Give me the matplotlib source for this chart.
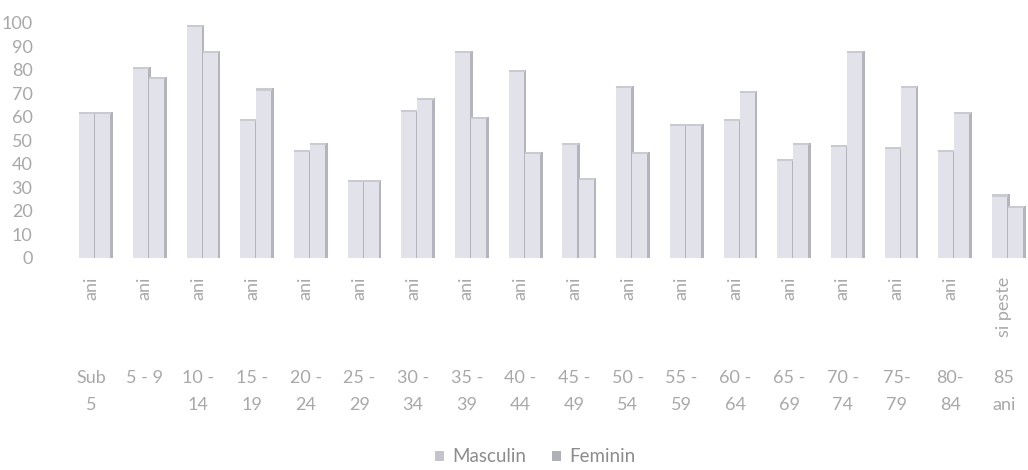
import matplotlib.pyplot as plt
import matplotlib.transforms as mtransforms
from matplotlib.patches import Patch

# grupe de varsta (eticheta rotita + doua randuri orizontale)
rot_labels = ["ani"] * 17 + ["si peste"]
line1 = ["Sub", "5 - 9", "10 -", "15 -", "20 -", "25 -", "30 -", "35 -", "40 -",
         "45 -", "50 -", "55 -", "60 -", "65 -", "70 -", "75-", "80-", "85"]
line2 = ["5", "", "14", "19", "24", "29", "34", "39", "44",
         "49", "54", "59", "64", "69", "74", "79", "84", "ani"]

masculin = [62, 81, 99, 59, 46, 33, 63, 88, 80, 49, 73, 57, 59, 42, 48, 47, 46, 27]
feminin = [62, 77, 88, 72, 49, 33, 68, 60, 45, 34, 45, 57, 71, 49, 88, 73, 62, 22]

yticks = list(range(0, 101, 10))

plt.rcParams['font.family'] = ['Lato', 'DejaVu Sans']

W, H = 1028, 470
fig = plt.figure(figsize=(W / 100, H / 100), dpi=100)
ax = fig.add_axes([70 / W, 1 - 258 / H, (W - 70) / W, (258 - 22.5) / H])

front = "#e2e2ea"
side = "#b4b4bc"
top = "#cacad2"
txt = "#a8a8a8"

n = len(masculin)
x = list(range(n))
bw = 0.30   # latime fata
sw = 0.05   # latime fata laterala

# coloane "3D": fata, latura dreapta mai inchisa, muchie sus
for i in x:
    for j, v in enumerate([masculin[i], feminin[i]]):
        left = i - 0.33 + j * bw
        ax.bar(left, v, width=bw, align='edge', color=front, linewidth=0, zorder=2 + 2 * j)
        ax.bar(left + bw - sw * 0.4, v, width=sw, align='edge', color=side, linewidth=0,
               zorder=2 + 2 * j + 1)
        ax.bar(left, 0.9, bottom=v - 0.9, width=bw, align='edge', color=top, linewidth=0,
               zorder=2 + 2 * j + 1)

ax.set_xlim(-0.5, 17.34)
ax.set_ylim(0, 100)
ax.set_yticks(yticks)
ax.set_yticklabels([str(t) for t in yticks])
ax.tick_params(axis='y', length=0, pad=27, labelsize=13, labelcolor=txt)
ax.set_xticks([])
for s in ax.spines.values():
    s.set_visible(False)

# etichete categorii
tr = mtransforms.blended_transform_factory(ax.transData, fig.transFigure)
for i in x:
    xc = i - 0.11
    ax.text(xc, 1 - 277 / H, rot_labels[i], transform=tr, rotation=90,
            ha='center', va='top', fontsize=13, color=txt)
    ax.text(xc, 1 - 378 / H, line1[i], transform=tr, ha='center', va='center',
            fontsize=13, color=txt)
    if line2[i]:
        ax.text(xc, 1 - 405 / H, line2[i], transform=tr, ha='center', va='center',
                fontsize=13, color=txt)

handles = [Patch(facecolor="#c4c4cc", label="Masculin"),
           Patch(facecolor="#b0b0b8", label="Feminin")]
fig.legend(handles=handles, loc='center', bbox_to_anchor=(535 / W, 1 - 457 / H), ncol=2,
           frameon=False, fontsize=13.5, labelcolor="#8c8c8c", handlelength=0.5,
           handleheight=0.5, handletextpad=0.4, columnspacing=1.4)

fig.savefig("out.png", dpi=100)
